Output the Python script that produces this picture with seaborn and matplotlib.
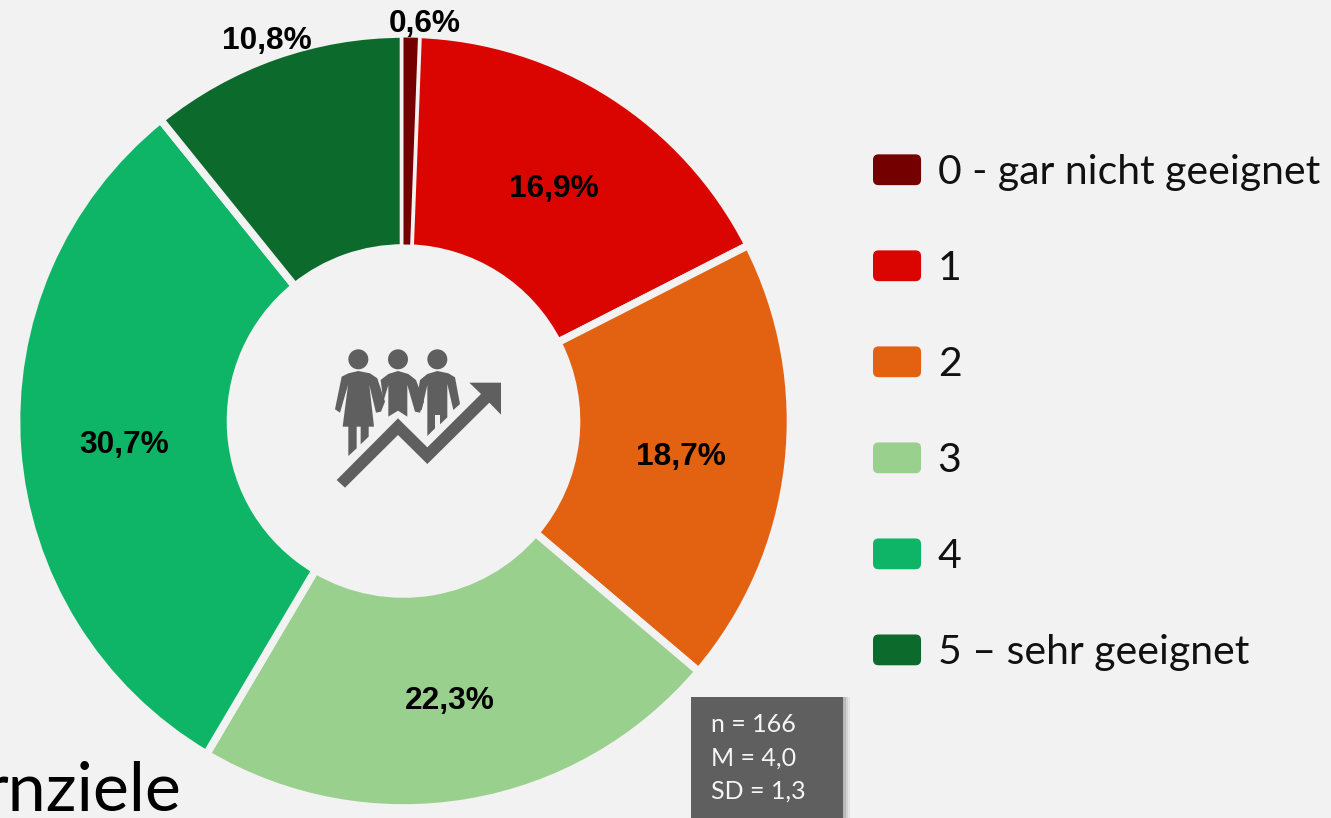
import matplotlib
matplotlib.use("Agg")
import matplotlib.pyplot as plt
from matplotlib.legend_handler import HandlerPatch
from matplotlib.patches import Circle, FancyBboxPatch, Polygon, Rectangle, Wedge
import seaborn as sns

W, H = 1331, 818
BG = "#f2f2f2"
DARK = "#5f5f5f"

categories = ["0 - gar nicht geeignet", "1", "2", "3", "4", "5 – sehr geeignet"]
shares = [0.6, 16.9, 18.7, 22.3, 30.7, 10.8]
colors = ["#750000", "#db0500", "#e36212", "#9ad08e", "#0fb566", "#0c6b2c"]
stats_lines = ["n = 166", "M = 4,0", "SD = 1,3"]
cut_title = "rnziele"

# icon outlines, traced in pixels of a 3x crop
heads = [(115, 88), (234, 88), (352, 88)]
icon_shapes = [
    [(50, 450), (234, 265), (322, 352), (483, 192), (448, 158), (543, 158),
     (543, 254), (508, 218), (322, 402), (234, 315), (75, 473)],
    # woman
    [(65, 140), (85, 130), (115, 123), (150, 130), (172, 145), (195, 215), (183, 245),
     (168, 248), (148, 165), (162, 290), (146, 290), (146, 320), (122, 343), (122, 290),
     (110, 290), (110, 355), (85, 378), (85, 290), (68, 290), (84, 165), (60, 248), (45, 238)],
    # middle man
    [(182, 150), (205, 132), (234, 123), (265, 132), (288, 150), (312, 215), (300, 248),
     (285, 245), (262, 165), (262, 260), (234, 242), (205, 260), (205, 165), (190, 215)],
    # right man
    [(300, 150), (322, 132), (352, 123), (385, 130), (405, 142), (420, 222), (400, 240),
     (382, 162), (382, 262), (360, 283), (360, 255), (345, 255), (345, 295), (322, 318),
     (322, 165), (305, 240), (285, 240)],
]


class RoundHandle(HandlerPatch):
    def create_artists(self, legend, orig_handle, xdescent, ydescent, width, height, fontsize, trans):
        box = FancyBboxPatch((-xdescent + 4, -ydescent + 4), width - 8, height - 8,
                             boxstyle="round,pad=4", mutation_aspect=1,
                             facecolor=orig_handle.get_facecolor(), edgecolor="none", transform=trans)
        return [box]


def crop_xy(x, y):
    return 320 + x / 3, 330 + y / 3


sns.set_theme(style="white", rc={"figure.facecolor": BG, "axes.facecolor": BG, "savefig.facecolor": BG})
plt.rcParams["font.family"] = ["Lato", "DejaVu Sans"]

fig = plt.figure(figsize=(W / 100, H / 100), dpi=100)

# pie, the axes box is exactly the circle
cx, cy, r = 403.5, 421, 387
ax = fig.add_axes([(cx - r) / W, (H - cy - r) / H, 2 * r / W, 2 * r / H])
palette = sns.color_palette(colors)
wedges, _, autotexts = ax.pie(
    shares, colors=palette, startangle=90, counterclock=False, radius=1,
    autopct=lambda p: f"{p:.1f}%".replace(".", ","), pctdistance=0.723,
    wedgeprops={"width": 0.553, "edgecolor": BG, "linewidth": 5.5},
    textprops={"family": "Liberation Sans", "fontweight": "bold", "fontsize": 22.8, "color": "black"},
)
ax.set_xlim(-1, 1)
ax.set_ylim(-1, 1)
for w in wedges:
    w.set_clip_on(False)
# the sliver has no outline, it would vanish under the stroke
wedges[0].set_linewidth(0)
wedges[0].set_radius(383.5 / r)
wedges[0].set_width(207 / r)
wedges[0].set_zorder(4)
# the two thin slices have their label outside the ring
autotexts[0].set_position((0.055, 1.035))
autotexts[5].set_position((-0.352, 0.993))
for t in autotexts:
    x, y = t.get_position()
    t.set_position((x, y - 0.01))
    t.set_clip_on(False)
    t.set_zorder(5)

# overlay in pixel coordinates for box, icon and the cut off title
over = fig.add_axes([0, 0, 1, 1], zorder=3)
over.set_xlim(0, W)
over.set_ylim(H, 0)
over.axis("off")

for off, alpha in [(7, 0.08), (5, 0.12), (3, 0.2)]:
    over.add_patch(Rectangle((691, 697), 152 + off, 130, facecolor="#555555", alpha=alpha, edgecolor="none"))
over.add_patch(Rectangle((691, 697), 152, 130, facecolor=DARK, edgecolor="none"))
for y, line in zip([725, 758, 791], stats_lines):
    over.text(711, y, line, color="#f5f5f5", fontsize=18, va="center", ha="left")

for shape in icon_shapes:
    over.add_patch(Polygon([crop_xy(*p) for p in shape], closed=True, facecolor=DARK, edgecolor="none"))
for hx, hy in heads:
    over.add_patch(Circle(crop_xy(hx, hy), 10, facecolor=DARK, edgecolor="none"))

over.text(181, 811, cut_title, color="black", fontsize=49, ha="right", va="baseline")

fs = 29.5
leg = fig.legend(
    wedges, categories, loc="upper left", bbox_to_anchor=(873 / W, 1 - 154 / H),
    frameon=False, fontsize=fs, labelcolor="#111111", borderpad=0, borderaxespad=0,
    handlelength=34.6 / fs, handleheight=23 / fs, handletextpad=12 / fs, labelspacing=42.5 / fs,
    handler_map={Wedge: RoundHandle()},
)

fig.savefig("out.png", dpi=100)
